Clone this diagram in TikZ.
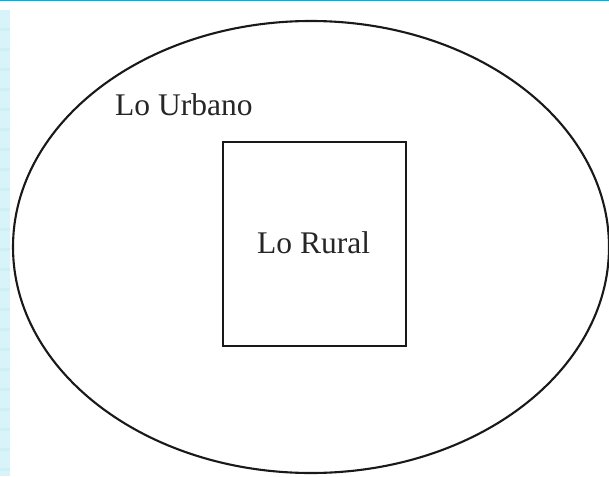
\documentclass[tikz,border=0pt]{standalone}
\usepackage{fontspec}
\setmainfont{Liberation Serif}
\usetikzlibrary{shapes.geometric}
\definecolor{topline}{HTML}{2AA0C0}
\definecolor{strip}{HTML}{D8F4FA}
\definecolor{stripe}{HTML}{D0EFF5}
\tikzset{
  outline/.style={draw=black!90, line width=2.1pt},
  lbl/.style={font=\fontsize{31.5}{36}\selectfont, inner sep=0pt, text=black!85},
}
\begin{document}
\begin{tikzpicture}[x=1pt,y=-1pt]
\useasboundingbox (0,0) rectangle (609,476);
\fill[white] (0,0) rectangle (609,476);
% left strip
\fill[strip] (0,10) rectangle (10,476);
\foreach \y in {28,48,...,468} \fill[stripe] (0,\y) rectangle (10,\y+3);
% top line
\fill[topline] (0,0) rectangle (609,1.5);
% ellipse
\node[ellipse, outline, minimum width=596pt, minimum height=452pt, inner sep=0pt] (urbano) at (311,247) {};
% rectangle
\node[rectangle, outline, minimum width=183pt, minimum height=204pt, inner sep=0pt] (rural) at (314.5,244) {};
\node[lbl, anchor=base west] (rurallbl) at (257,253) {Lo Rural};
\node[lbl, anchor=base west] (urbanolbl) at (115,115) {Lo Urbano};
\end{tikzpicture}
\end{document}
